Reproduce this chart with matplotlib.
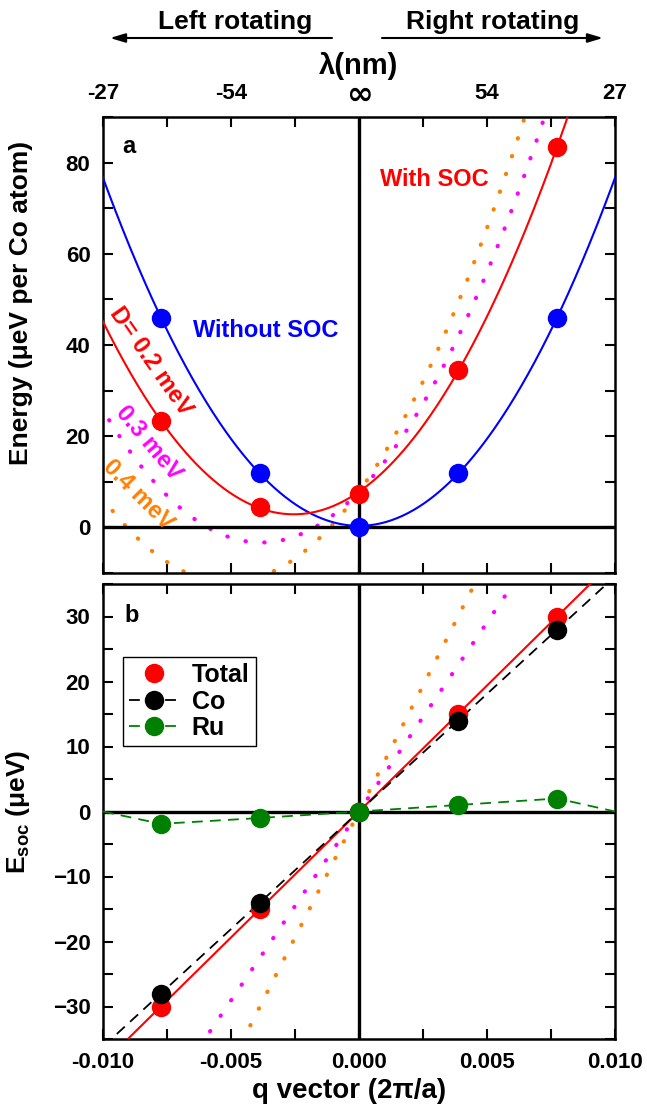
import matplotlib
matplotlib.use('Agg')
import matplotlib.pyplot as plt
import numpy as np
from matplotlib.ticker import MultipleLocator, FixedLocator
from matplotlib.patches import FancyArrowPatch

plt.rcParams['font.family'] = ['Liberation Sans', 'DejaVu Sans']
plt.rcParams['font.weight'] = 'bold'
plt.rcParams['mathtext.fontset'] = 'custom'
plt.rcParams['mathtext.rm'] = 'Liberation Sans:bold'
plt.rcParams['mathtext.bf'] = 'Liberation Sans:bold'

# ---------- dados ---------- #
q = np.array([-0.00774, -0.00387, 0.0, 0.00387, 0.00774])

# painel a: energia (ueV por atomo de Co)
e_sem_soc = np.array([46.0, 12.0, 0.0, 12.0, 46.0])
e_com_soc = np.array([23.3, 4.5, 7.4, 34.5, 83.4])
D_valores = [0.2, 0.3, 0.4]

# painel b: E_soc (ueV)
soc_total = np.array([-30.0, -15.0, 0.0, 15.0, 30.0])
soc_co = np.array([-28.0, -14.0, 0.0, 14.0, 28.0])
soc_ru = np.array([-1.9, -1.0, 0.0, 1.0, 2.0])
# linha do Ru vai ate as bordas
ru_q_linha = np.array([-0.010, -0.00774, -0.00387, 0.0, 0.00387, 0.00774, 0.010])
ru_linha = np.array([0.0, -1.9, -1.0, 0.0, 1.0, 2.0, 0.0])

lambda_ticks = [-0.010, -0.005, 0.0, 0.005, 0.010]
lambda_labels = ['-27', '-54', '', '54', '27']   # o infinito vai a parte, maior

VERMELHO = '#ff0000'
AZUL = '#0000ff'
MAGENTA = '#ff00ff'
LARANJA = '#ff8000'
VERDE = '#008000'
CORES_D = {0.3: MAGENTA, 0.4: LARANJA}

# ---------- ajustes ---------- #
qq = np.linspace(-0.0105, 0.0105, 400)
p_azul = np.polyfit(q, e_sem_soc, 2)
p_verm = np.polyfit(q, e_com_soc, 2)
p_total = np.polyfit(q, soc_total, 1)
p_co = np.polyfit(q, soc_co, 1)

# ---------- figura ---------- #
W, H = 647, 1108
fig = plt.figure(figsize=(W / 100, H / 100), dpi=100)
ax_a = fig.add_axes([103 / W, 1 - 573 / H, 512 / W, 456 / H])
ax_b = fig.add_axes([103 / W, 1 - 1039 / H, 512 / W, 455 / H])

pontilhado = (0, (0.1, 4.4))
LW_PONTO = 3.0

# ---- painel a ---- #
ax_a.axhline(0, color='black', lw=2.4, zorder=3)
ax_a.axvline(0, color='black', lw=2.4, zorder=3)

ax_a.plot(qq, np.polyval(p_azul, qq), color=AZUL, lw=1.5, zorder=4)
ax_a.plot(qq, np.polyval(p_verm, qq), color=VERMELHO, lw=1.5, zorder=4)
for d in D_valores[1:]:
    k = d / D_valores[0]
    curva = np.polyval(p_verm, qq) + (k - 1) * p_verm[1] * qq
    ax_a.plot(qq, curva, color=CORES_D[d], lw=LW_PONTO, linestyle=pontilhado,
              dash_capstyle='round', zorder=2)

ax_a.plot(q, e_sem_soc, 'o', color=AZUL, ms=14, mec='none', zorder=6)
ax_a.plot(q, e_com_soc, 'o', color=VERMELHO, ms=14, mec='none', zorder=6)

ax_a.text(-0.00365, 43.1, 'Without SOC', color=AZUL, fontsize=17, ha='center', va='center')
ax_a.text(0.00293, 76.3, 'With SOC', color=VERMELHO, fontsize=17, ha='center', va='center')
ax_a.text(-0.0090, 83.5, 'a', fontsize=17, ha='center', va='center')
ax_a.text(-0.00813, 36.5, 'D= 0.2 meV', color=VERMELHO, fontsize=17, rotation=-55,
          ha='center', va='center', rotation_mode='anchor')
ax_a.text(-0.0082, 18.5, '0.3 meV', color=MAGENTA, fontsize=17, rotation=-50,
          ha='center', va='center', rotation_mode='anchor')
ax_a.text(-0.00863, 7.0, '0.4 meV', color=LARANJA, fontsize=17, rotation=-45,
          ha='center', va='center', rotation_mode='anchor')

ax_a.set_xlim(-0.010, 0.010)
ax_a.set_ylim(-10, 90)
ax_a.yaxis.set_major_locator(FixedLocator([0, 20, 40, 60, 80]))
ax_a.yaxis.set_minor_locator(MultipleLocator(10))
ax_a.xaxis.set_major_locator(FixedLocator(lambda_ticks))
ax_a.xaxis.set_minor_locator(MultipleLocator(0.0025))
ax_a.set_xticklabels(lambda_labels)
ax_a.tick_params(axis='x', which='both', labelbottom=False, labeltop=True)
ax_a.text(0.0, 1.048, '\u221e', transform=ax_a.get_xaxis_transform(), fontsize=23,
          family='DejaVu Sans', ha='center', va='center')
ax_a.xaxis.set_label_position('top')
ax_a.set_xlabel('\u03bb(nm)', fontsize=21, fontweight='bold')
ax_a.xaxis.set_label_coords(0.5, 1.095)
ax_a.set_ylabel('Energy (\u03bceV per Co atom)', fontsize=19, fontweight='bold')
ax_a.yaxis.set_label_coords(-0.137, 0.593)

# ---- painel b ---- #
ax_b.axhline(0, color='black', lw=2.4, zorder=3)
ax_b.axvline(0, color='black', lw=2.4, zorder=3)

ax_b.plot(qq, np.polyval(p_total, qq), color=VERMELHO, lw=1.5, zorder=4)
ax_b.plot(qq, np.polyval(p_co, qq), color='black', lw=1.3, linestyle=(0, (6, 4)), zorder=4)
ax_b.plot(ru_q_linha, ru_linha, color=VERDE, lw=1.3, linestyle=(0, (6, 4)), zorder=4)
for d in D_valores[1:]:
    k = d / D_valores[0]
    ax_b.plot(qq, k * np.polyval(p_total, qq), color=CORES_D[d], lw=LW_PONTO,
              linestyle=pontilhado, dash_capstyle='round', zorder=2)

ax_b.plot(q, soc_total, 'o', color=VERMELHO, ms=14, mec='none', zorder=6)
ax_b.plot(q, soc_co, 'o', color='black', ms=14, mec='none', zorder=7)
ax_b.plot(q, soc_ru, 'o', color=VERDE, ms=14, mec='none', zorder=8)

# legenda
h_total, = ax_b.plot([], [], 'o', color=VERMELHO, ms=14, mec='none')
h_co, = ax_b.plot([], [], 'o', color='black', ms=14, mec='none', lw=1.3, linestyle=(0, (6, 4)))
h_ru, = ax_b.plot([], [], 'o', color=VERDE, ms=14, mec='none', lw=1.3, linestyle=(0, (6, 4)))
leg = ax_b.legend([h_total, h_co, h_ru], ['Total', 'Co', 'Ru'], loc='upper left',
                  bbox_to_anchor=(0.039, 0.84), borderaxespad=0, fancybox=False,
                  framealpha=1, edgecolor='black', fontsize=18, handlelength=2.0,
                  handletextpad=0.5, labelspacing=0.1, borderpad=0.25)
leg.get_frame().set_linewidth(1.0)

ax_b.text(-0.00887, 30.1, 'b', fontsize=17, ha='center', va='center')

ax_b.set_xlim(-0.010, 0.010)
ax_b.set_ylim(-35, 35)
ax_b.yaxis.set_major_locator(MultipleLocator(10))
ax_b.yaxis.set_minor_locator(MultipleLocator(5))
ax_b.xaxis.set_major_locator(MultipleLocator(0.005))
ax_b.xaxis.set_minor_locator(MultipleLocator(0.0025))
ax_b.xaxis.set_major_formatter(plt.FuncFormatter(lambda v, p: f'{v:.3f}'))
ax_b.set_xlabel('q vector (2\u03c0/a)', fontsize=20, fontweight='bold')
ax_b.xaxis.set_label_coords(0.48, -0.085)
ax_b.set_ylabel(r'E$_{\mathregular{soc}}$ (' + '\u03bc' + 'eV)', fontsize=19, fontweight='bold')
ax_b.yaxis.set_label_coords(-0.139, 0.5)

for ax in (ax_a, ax_b):
    for s in ax.spines.values():
        s.set_linewidth(1.8)
    ax.tick_params(which='both', direction='in', top=True, right=True,
                   length=7, width=1.5, labelsize=16, pad=9)

fig.text(235 / W, 1 - 22 / H, 'Left rotating', fontsize=19, ha='center', va='center')
fig.text(493 / W, 1 - 22 / H, 'Right rotating', fontsize=19, ha='center', va='center')
seta = dict(arrowstyle='-|>,head_length=0.6,head_width=0.18', color='black', lw=1.5,
            shrinkA=0, shrinkB=0, mutation_scale=15, transform=fig.transFigure)
fig.add_artist(FancyArrowPatch((332 / W, 1 - 38 / H), (110 / W, 1 - 38 / H), **seta))
fig.add_artist(FancyArrowPatch((382 / W, 1 - 38 / H), (603 / W, 1 - 38 / H), **seta))

plt.savefig('out.png', dpi=100)
